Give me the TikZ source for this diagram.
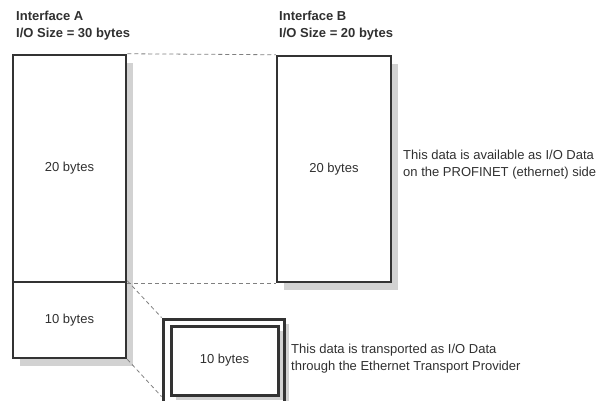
\documentclass[tikz,border=0pt]{standalone}
\usepackage{fontspec}
\setmainfont{Liberation Sans}
\usetikzlibrary{shadows, calc}

\definecolor{boxgray}{HTML}{333333}
\definecolor{txtgray}{HTML}{303030}
\definecolor{shadegray}{HTML}{D2D2D2}
\definecolor{dashgray}{HTML}{808080}

\begin{document}
\begin{tikzpicture}[x=1pt, y=-1pt,
  every node/.style={font=\fontsize{13}{17}\selectfont, text=txtgray},
  block/.style={draw=boxgray, line width=2.5pt, fill=white, rectangle, inner sep=0pt,
    drop shadow={shadow xshift=7pt, shadow yshift=-8pt, opacity=1, fill=shadegray}},
  tpbox/.style={draw=boxgray, line width=3pt, fill=white, rectangle, inner sep=0pt,
    drop shadow={shadow xshift=5pt, shadow yshift=-5pt, opacity=1, fill=shadegray}},
  title/.style={font=\fontsize{13}{17}\selectfont\bfseries, align=left, anchor=base west, inner sep=0pt},
  note/.style={align=left, anchor=base west, inner sep=0pt},
  link/.style={draw=dashgray, line width=0.8pt, dash pattern=on 4pt off 3pt}]
\useasboundingbox (0,0) rectangle (599,400);

% Interface A
\node[title] (titleA) at (16,37) {Interface A\\I/O Size = 30 bytes};
\node[block, minimum width=113, minimum height=227] (aTop) at (69.5,168.5) {20 bytes};
\node[block, minimum width=113, minimum height=76] (aBot) at (69.5,320) {10 bytes};

% Interface B
\node[title] (titleB) at (279,37) {Interface B\\I/O Size = 20 bytes};
\node[block, minimum width=114, minimum height=226] (bBox) at (334,169) {20 bytes};

% Ethernet Transport Provider
\node[tpbox, minimum width=121, minimum height=83] (tpOuter) at (223.5,360.5) {};
\node[tpbox, minimum width=107, minimum height=69] (tpInner) at (224.5,360.5) {10 bytes};

% notes
\node[note] (noteB) at (403,176) {This data is available as I/O Data\\on the PROFINET (ethernet) side};
\node[note] (noteTp) at (291,370) {This data is transported as I/O Data\\through the Ethernet Transport Provider};

% dashed guides
\draw[link] (aTop.north east) -- (bBox.north west);
\draw[link] (aTop.south east) -- (bBox.south west);
\draw[link] (aBot.north east) -- (tpOuter.north west);
\draw[link] (aBot.south east) -- (tpOuter.west |- tpInner.south);
\end{tikzpicture}
\end{document}
